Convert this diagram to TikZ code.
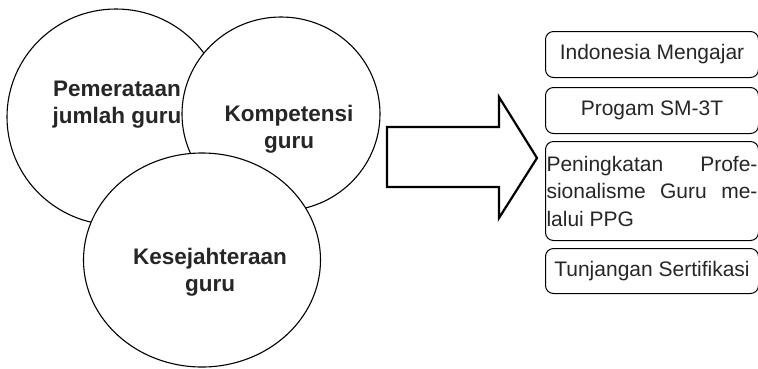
\documentclass[tikz,border=0pt]{standalone}
\usepackage{fontspec}
\setmainfont{Liberation Sans}
\usetikzlibrary{shapes.geometric,positioning}
\begin{document}
\begin{tikzpicture}
        [x=1pt,y=-1pt,
        bubble/.style={ellipse,draw,line width=1.1pt,fill=white,inner sep=0pt},
        bubbletext/.style={align=center,inner sep=0pt,font=\bfseries\fontsize{22.5}{27}\selectfont,text=black!85},
        program/.style={rectangle,rounded corners=8pt,draw,line width=1pt,minimum width=213pt,minimum height=46pt,inner xsep=1pt,font=\fontsize{21}{27.5}\selectfont,text=black!85}]
        \useasboundingbox (0,0) rectangle (758,368);

        % circles
        \node[bubble,minimum width=218pt,minimum height=216pt] (C1) at (116,117) {};
        \node[bubbletext] (T1) at (117,105) {Pemerataan\\jumlah guru};
        \node[bubble,minimum width=198pt,minimum height=194pt] (C2) at (281,114) {};
        \node[bubbletext] (T2) at (289,129) {Kompetensi\\guru};
        \node[bubble,minimum width=237pt,minimum height=214pt] (C3) at (202,260) {};
        \node[bubbletext] (T3) at (210,272) {Kesejahteraan\\guru};

        % arrow
        \draw[line width=2.2pt,line join=miter]
        (387,127) -- (499,127) -- (499,97) -- (537,158) -- (499,218) -- (499,187) -- (387,187) -- cycle;

        % programs
        \node[program,anchor=north west] (P1) at (545,31) {Indonesia Mengajar};
        \node[program,below=9pt of P1] (P2) {Progam SM-3T};
        \node[program,below=7pt of P2,minimum height=99pt,text width=211pt,align=justify] (P3)
        {Peningkatan Profe-\linebreak sionalisme Guru me-\linebreak lalui PPG};
        \node[program,below=7pt of P3,minimum height=45pt] (P4) {Tunjangan Sertifikasi};
\end{tikzpicture}
\end{document}
